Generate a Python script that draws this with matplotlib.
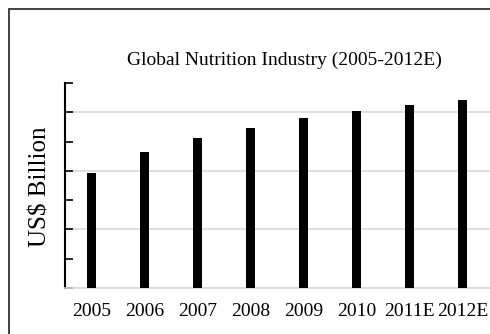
import matplotlib
matplotlib.use("Agg")
import matplotlib.pyplot as plt
from matplotlib.patches import Rectangle
from matplotlib.ticker import MultipleLocator
import numpy as np

# values (no axis labels, so units are arbitrary)
years = ["2005", "2006", "2007", "2008", "2009", "2010", "2011E", "2012E"]
values = [39.1, 46.6, 51.3, 54.8, 57.9, 60.3, 62.4, 64.1]

plt.rcParams["font.family"] = ["Liberation Serif", "DejaVu Serif"]

fig = plt.figure(figsize=(4.9, 3.34), dpi=100)
ax = fig.add_axes([65 / 490, 46 / 334, 425 / 490, 205 / 334])

# outer frame of the chart (runs off the right and bottom edge)
fig.patches.append(Rectangle((9 / 490, -0.05), 1.2, (334 - 9) / 334 + 0.05,
                             transform=fig.transFigure, fill=False,
                             edgecolor="#333333", linewidth=1.3))

x = np.arange(len(years))
ax.bar(x, values, width=0.17, color="black", zorder=3)

ax.set_xlim(-0.5, len(years) - 0.5 + 0.02)
ax.set_ylim(0, 70)
ax.yaxis.set_major_locator(MultipleLocator(20))
ax.yaxis.set_minor_locator(MultipleLocator(10))
ax.grid(axis="y", which="major", color="#d9d9d9", linewidth=1.2, zorder=0)
ax.set_yticklabels([])
ax.tick_params(axis="y", which="both", direction="in", length=6, width=1.2, color="black")
ax.tick_params(axis="x", length=0, labelsize=14, pad=11)
ax.set_xticks(x)
ax.set_xticklabels(years)

for s in ["top", "right"]:
    ax.spines[s].set_visible(False)
ax.spines["left"].set_linewidth(1.5)
ax.spines["bottom"].set_color("#d9d9d9")
ax.spines["bottom"].set_linewidth(1.2)

fig.text(40 / 490, 1 - 187 / 334, "US$ Billion", fontsize=18,
         rotation=90, ha="center", va="center")
fig.text(284 / 490, 1 - 60 / 334, "Global Nutrition Industry (2005-2012E)",
         fontsize=14, ha="center", va="center")

fig.savefig("out.png", dpi=100, facecolor="white")
